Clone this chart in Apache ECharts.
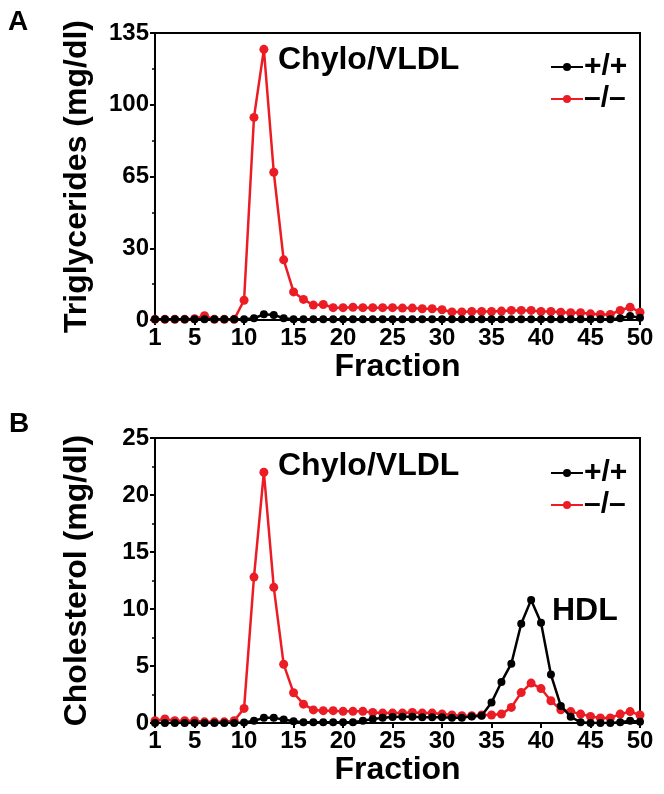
<!DOCTYPE html>
<html><head><meta charset="utf-8">
<script src="https://cdn.jsdelivr.net/npm/echarts@6/dist/echarts.min.js"></script>
<style>html,body{margin:0;padding:0;background:#fff}#c{width:664px;height:794px}</style>
</head><body><div id="c"></div>
<script>
const fractions = [1,2,3,4,5,6,7,8,9,10,11,12,13,14,15,16,17,18,19,20,21,22,23,24,25,26,27,28,29,30,31,32,33,34,35,36,37,38,39,40,41,42,43,44,45,46,47,48,49,50];
const xTickValues = [1,5,10,15,20,25,30,35,40,45,50];
const seriesNames = ['+/+', '–/–'];

// Panel A: Triglycerides (mg/dl)
const tgWT = [0.3,0.3,0.3,0.3,0.3,0.3,0.3,0.3,0.3,0.4, 0.8,2.7,2.4,0.8,0.3,0.3,0.3,0.3,0.3,0.3, 0.3,0.3,0.3,0.3,0.3,0.3,0.3,0.3,0.3,0.3, 0.3,0.3,0.3,0.3,0.3,0.3,0.3,0.3,0.3,0.3, 0.3,0.3,0.3,0.3,0.3,0.3,0.3,0.8,1.9,1.1];
const tgKO = [0.3,0.3,0.3,0.3,0.6,2.0,0.3,0.3,0.3,9.3, 95.3,127.3,69.5,28.3,13.2,9.7,7.0,7.3,5.8,5.8, 6.0,5.8,5.8,5.8,5.8,5.6,5.6,5.3,5.3,4.8, 3.8,3.8,4.0,4.0,4.0,4.2,4.5,4.5,4.5,4.0, 4.0,3.7,3.4,3.4,2.9,2.6,2.6,4.5,6.0,3.7];
const tgTickValues = [0,33.75,67.5,101.25,135];
const tgTickLabels = ['0','30','65','100','135'];

// Panel B: Cholesterol (mg/dl)
const chWT = [0,0,0,0,0,0,0,0,0,0.05, 0.2,0.45,0.45,0.3,0.15,0.06,0.06,0.06,0.06,0.06, 0.06,0.2,0.35,0.45,0.52,0.55,0.55,0.5,0.5,0.5, 0.45,0.45,0.58,0.64,1.8, 3.6,5.2,8.7,10.8,8.8, 4.25,1.5,0.55,0.06,0, 0,0,0.06,0.2,0.12];
const chKO = [0.2,0.35,0.2,0.2,0.2,0.1,0.1,0.1,0.2,1.28, 12.8,22.0,11.9,5.15,2.65,1.65,1.15,1.08,1.08,1.02, 1.02,1.02,0.93,0.87,0.87,0.87,0.93,0.87,0.87,0.78, 0.7,0.64,0.64,0.7,0.7, 0.78,1.37,2.67,3.5,3.02, 1.95,1.16,1.0,0.78,0.58, 0.44,0.44,0.78,1.0,0.7];
const chTickLabels = ['0','5','10','15','20','25'];

const FONT = '"Liberation Sans", Arial, Helvetica, sans-serif';
const RED = '#ec1c24', BLACK = '#000';
const zip = ys => fractions.map((x, i) => [x, ys[i]]);

const txt = (s, extra) => Object.assign({color: '#000', fontFamily: FONT, fontWeight: 'bold', fontSize: s}, extra || {});

function xAxisFor(gi) {
  return {
    type: 'value', gridIndex: gi, min: 1, max: 50,
    name: 'Fraction', nameLocation: 'middle', nameGap: 30,
    nameTextStyle: txt(32),
    axisLine: {lineStyle: {color: BLACK, width: 2}},
    axisTick: {show: true, customValues: xTickValues, length: 5, lineStyle: {color: BLACK, width: 2}},
    axisLabel: Object.assign({customValues: xTickValues, margin: 6, formatter: v => String(v)}, txt(24)),
    splitLine: {show: false}
  };
}

function lineSeries(name, gi, data, color, size) {
  return {
    name, type: 'line', xAxisIndex: gi, yAxisIndex: gi, data: zip(data),
    symbol: 'circle', symbolSize: size, showSymbol: true,
    lineStyle: {color, width: 2.5}, itemStyle: {color},
    animation: false, z: color === BLACK ? 3 : 2
  };
}

const chart = echarts.init(document.getElementById('c'), null, {renderer: 'canvas'});
chart.setOption({
  backgroundColor: '#fff',
  animation: false,
  grid: [
    {left: 155, right: 24, top: 33, height: 287, show: true, borderColor: BLACK, borderWidth: 2, backgroundColor: 'transparent'},
    {left: 155, right: 24, top: 438, height: 285, show: true, borderColor: BLACK, borderWidth: 2, backgroundColor: 'transparent'}
  ],
  xAxis: [xAxisFor(0), xAxisFor(1)],
  yAxis: [
    {
      type: 'value', gridIndex: 0, min: 0, max: 135, interval: 33.75,
      name: 'Triglycerides (mg/dl)', nameLocation: 'middle', nameGap: 62, nameTextStyle: txt(32),
      axisLine: {show: true, lineStyle: {color: BLACK, width: 2}},
      axisTick: {show: true, length: 5, lineStyle: {color: BLACK, width: 2}},
      minorTick: {show: true, splitNumber: 2, length: 3, lineStyle: {color: BLACK, width: 1.5}},
      axisLabel: Object.assign({margin: 6, formatter: v => tgTickLabels[tgTickValues.indexOf(v)] || ''}, txt(24)),
      splitLine: {show: false}
    },
    {
      type: 'value', gridIndex: 1, min: 0, max: 25, interval: 5,
      name: 'Cholesterol (mg/dl)', nameLocation: 'middle', nameGap: 62, nameTextStyle: txt(32),
      axisLine: {show: true, lineStyle: {color: BLACK, width: 2}},
      axisTick: {show: true, length: 5, lineStyle: {color: BLACK, width: 2}},
      minorTick: {show: true, splitNumber: 2, length: 3, lineStyle: {color: BLACK, width: 1.5}},
      axisLabel: Object.assign({margin: 6, formatter: v => chTickLabels[v / 5] || ''}, txt(24)),
      splitLine: {show: false}
    }
  ],
  legend: [
    {data: seriesNames, orient: 'vertical', left: 545, top: 47, itemWidth: 32, itemHeight: 10, itemGap: 2,
     textStyle: txt(30, {padding: [0, 0, 0, -4]})},
    {data: seriesNames, orient: 'vertical', left: 545, top: 453, itemWidth: 32, itemHeight: 10, itemGap: 2,
     textStyle: txt(30, {padding: [0, 0, 0, -4]})}
  ],
  series: [
    lineSeries(seriesNames[1], 0, tgKO, RED, 9),
    lineSeries(seriesNames[0], 0, tgWT, BLACK, 8),
    lineSeries(seriesNames[1], 1, chKO, RED, 9),
    lineSeries(seriesNames[0], 1, chWT, BLACK, 8)
  ],
  graphic: [
    {type: 'text', left: 8, top: 8, style: txt(28, {text: 'A'})},
    {type: 'text', left: 9, top: 410, style: txt(28, {text: 'B'})},
    {type: 'text', left: 278, top: 44, style: txt(32, {text: 'Chylo/VLDL'})},
    {type: 'text', left: 278, top: 450, style: txt(32, {text: 'Chylo/VLDL'})},
    {type: 'text', left: 552, top: 595, style: txt(32, {text: 'HDL'})}
  ]
});
</script></body></html>
